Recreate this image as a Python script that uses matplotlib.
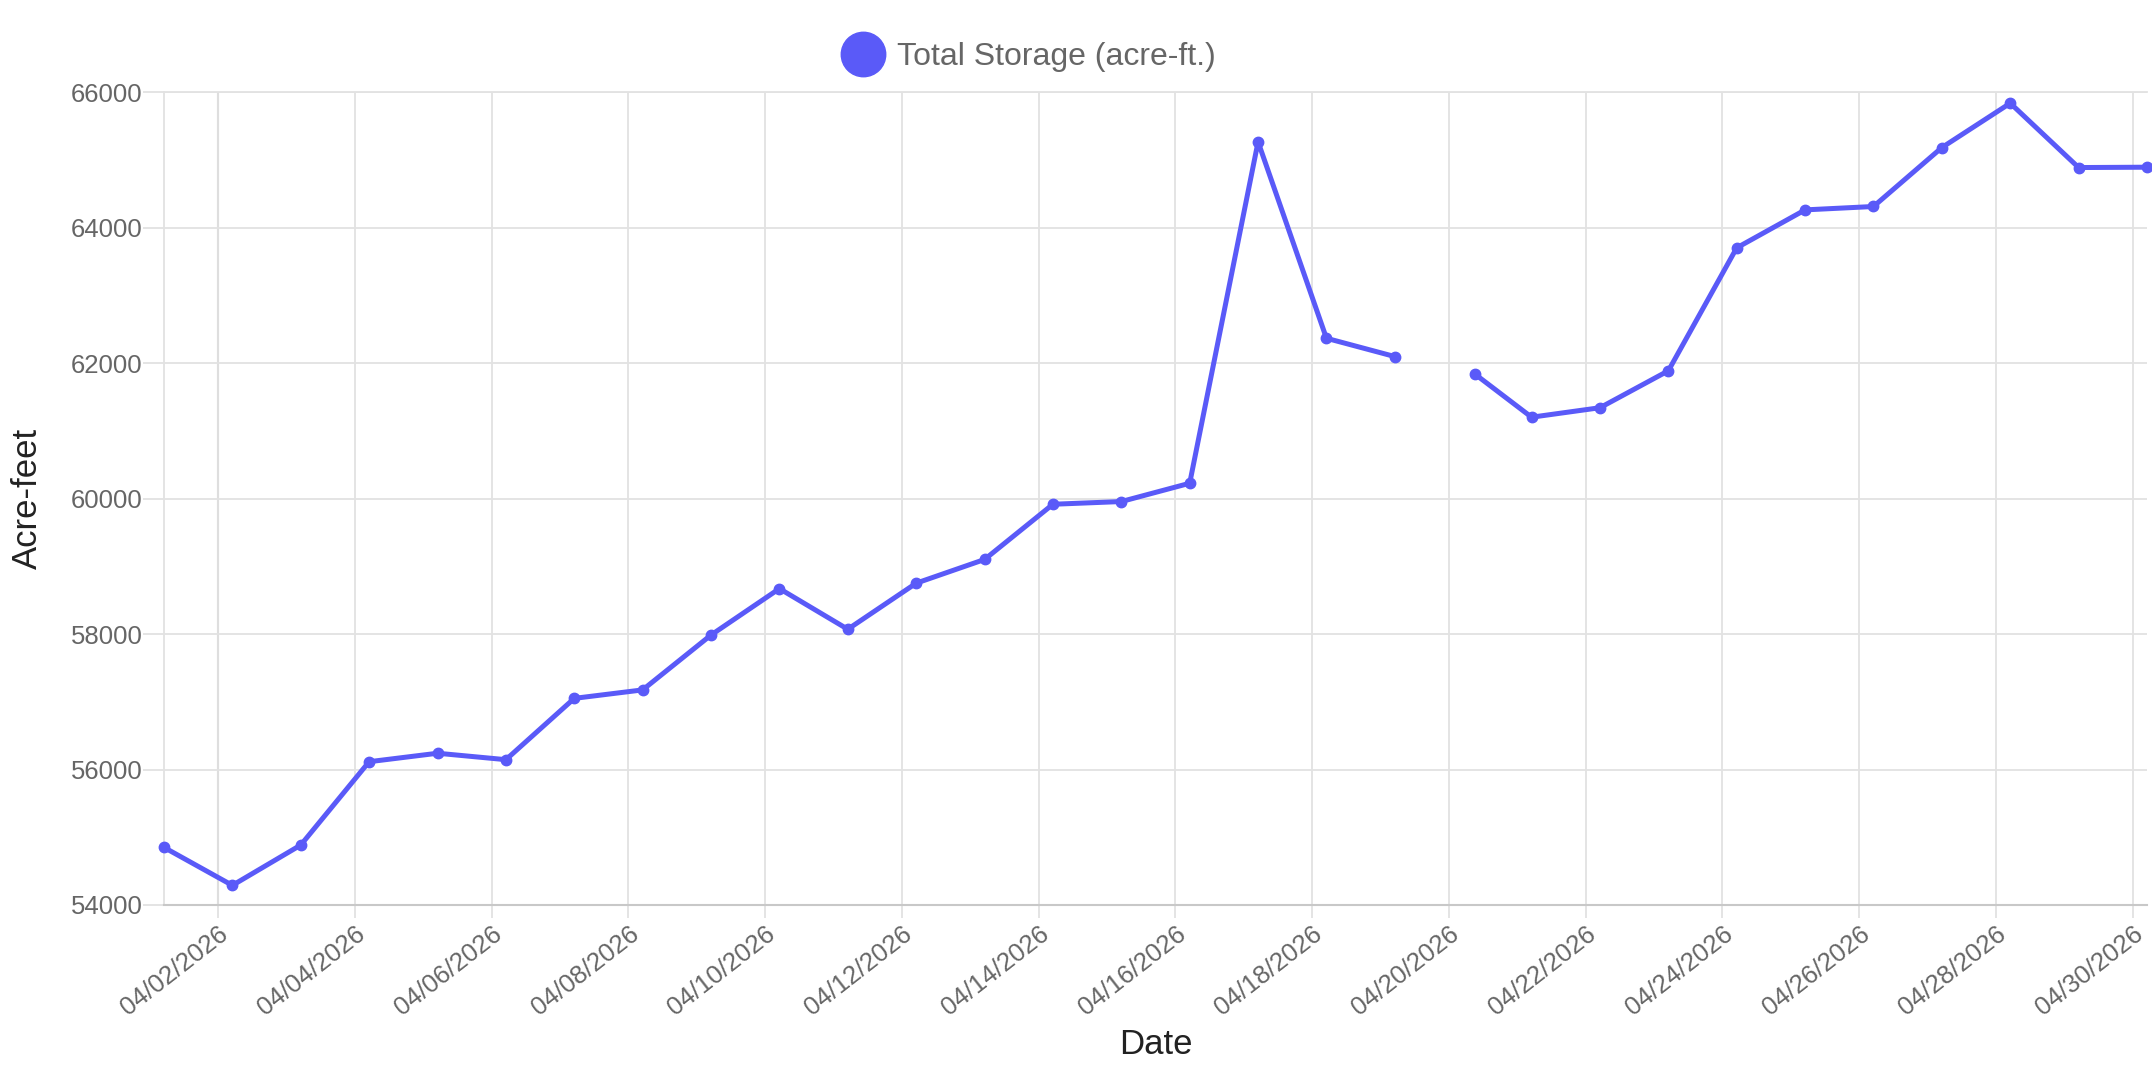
import numpy as np
import pandas as pd
import matplotlib
matplotlib.use("Agg")
import matplotlib.pyplot as plt
import matplotlib.dates as mdates
from matplotlib.lines import Line2D

plt.rcParams['font.family'] = ['Liberation Sans', 'DejaVu Sans']

# Daily readings (04/20 05:00 missing, one late reading that day)
timestamps = [
    '2026-04-01 05:00', '2026-04-02 05:00', '2026-04-03 05:00', '2026-04-04 05:00',
    '2026-04-05 05:00', '2026-04-06 05:00', '2026-04-07 05:00', '2026-04-08 05:00',
    '2026-04-09 05:00', '2026-04-10 05:00', '2026-04-11 05:00', '2026-04-12 05:00',
    '2026-04-13 05:00', '2026-04-14 05:00', '2026-04-15 05:00', '2026-04-16 05:00',
    '2026-04-17 05:00', '2026-04-18 05:00', '2026-04-19 05:00', '2026-04-20 05:00',
    '2026-04-20 09:00', '2026-04-21 05:00', '2026-04-22 05:00', '2026-04-23 05:00',
    '2026-04-24 05:00', '2026-04-25 05:00', '2026-04-26 05:00', '2026-04-27 05:00',
    '2026-04-28 05:00', '2026-04-29 05:00', '2026-04-30 05:00',
]
storage = [
    54850, 54290, 54885, 56115,
    56240, 56145, 57050, 57175,
    57985, 58670, 58070, 58750,
    59100, 59915, 59955, 60225,
    65265, 62365, 62095, np.nan,
    61840, 61200, 61340, 61885,
    63700, 64260, 64310, 65180,
    65835, 64885, 64890,
]
series_label = 'Total Storage (acre-ft.)'
x_title = 'Date'
y_title = 'Acre-feet'
x_ticks = pd.date_range('2026-04-02', '2026-04-30', freq='2D')
y_ticks = np.arange(54000, 66001, 2000)

line_color = '#5a5af8'
grid_color = '#e2e2e2'
tick_color = '#666666'
title_color = '#222222'

dt = pd.to_datetime(timestamps)

W, H = 2152, 1076
fig = plt.figure(figsize=(W / 100, H / 100), dpi=100)
ax = fig.add_axes([164 / W, 1 - 905 / H, (2147 - 164) / W, (905 - 92) / H])

ax.plot(dt, storage, color=line_color, lw=3.6, marker='o', ms=7.5,
        mfc=line_color, mec=line_color, zorder=3, solid_joinstyle='round',
        clip_on=False)

ax.set_xlim(dt[0], dt[-1])
ax.set_ylim(y_ticks[0], y_ticks[-1])
ax.set_xticks(x_ticks)
ax.xaxis.set_major_formatter(mdates.DateFormatter('%m/%d/%Y'))
ax.set_yticks(y_ticks)
ax.yaxis.set_major_formatter(matplotlib.ticker.FormatStrFormatter('%d'))

ax.grid(True, color=grid_color, lw=1.3, zorder=0)
# first date line is drawn darker in the original
ax.axvline(x_ticks[0], color='#bdbdbd', lw=1.5, zorder=1)

for side in ['top', 'left']:
    ax.spines[side].set_color(grid_color)
    ax.spines[side].set_linewidth(1.3)
ax.spines['right'].set_visible(False)
ax.spines['bottom'].set_color('#c8c8c8')
ax.spines['bottom'].set_linewidth(1.5)

ax.tick_params(axis='y', length=14.8, width=1.3, color=grid_color, pad=0.5,
               labelsize=18.5, labelcolor=tick_color)
ax.tick_params(axis='x', length=9, width=1.3, color=grid_color, pad=3,
               labelsize=18.5, labelcolor=tick_color)
for lab in ax.get_xticklabels():
    lab.set_rotation(38)
    lab.set_rotation_mode('anchor')
    lab.set_ha('right')
    lab.set_va('top')

ax.set_xlabel(x_title, fontsize=25, color=title_color, va='center')
ax.xaxis.set_label_coords(0.5, (905 - 1045) / (905 - 92))
ax.set_ylabel(y_title, fontsize=25, color=title_color, va='center')
ax.yaxis.set_label_coords((27 - 164) / (2147 - 164), 0.5)

handle = Line2D([], [], ls='none', marker='o', ms=32, mfc=line_color, mec=line_color)
fig.legend([handle], [series_label], loc='center',
           bbox_to_anchor=(1028 / W, 1 - 57 / H),
           frameon=False, fontsize=23, labelcolor=tick_color, handletextpad=0.35,
           handlelength=1.4, borderpad=0)

fig.savefig('out.png', dpi=100)
